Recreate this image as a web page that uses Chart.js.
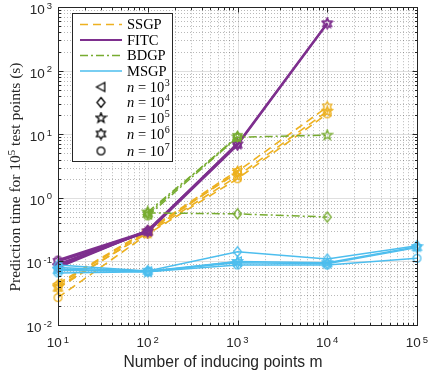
<!DOCTYPE html>
<html>
<head>
<meta charset="utf-8">
<script src="https://cdn.jsdelivr.net/npm/chart.js@4"></script>
<style>
html, body { margin: 0; padding: 0; background: #fff; }
#wrap { width: 429px; height: 374px; }
</style>
</head>
<body>
<div id="wrap"><canvas id="timeChart" width="429" height="374"></canvas></div>
<script>
const inducingPoints = [10, 100, 1000, 10000, 100000];
const nExponents = ['3', '4', '5', '6', '7'];
const methodNames = ['SSGP', 'FITC', 'BDGP', 'MSGP'];

// rows: n = 1e3, 1e4, 1e5, 1e6, 1e7 ; columns follow inducingPoints
const ssgpTimes = [
    [0.045, 0.31, 2.7, null, null],
    [0.043, 0.30, 2.5, null, null],
    [0.040, 0.28, 2.2, 23, null],
    [0.038, 0.29, 2.6, 27, null],
    [0.027, 0.27, 2.0, 21, null]
];
const fitcTimes = [
    [0.090, 0.30, null, null, null],
    [0.080, 0.31, 7.0, null, null],
    [0.085, 0.30, 7.0, 560, null],
    [0.100, 0.29, 6.8, 550, null],
    [0.105, 0.30, 7.2, null, null]
];
const bdgpTimes = [
    [null, 0.55, null, null, null],
    [null, 0.58, 0.56, 0.50, null],
    [null, 0.60, 9.0, 9.7, null],
    [null, 0.56, 9.3, null, null],
    [null, 0.52, 9.0, null, null]
];
const msgpTimes = [
    [0.080, 0.070, 0.100, null, null],
    [0.088, 0.071, 0.142, 0.109, 0.176],
    [0.076, 0.068, 0.100, 0.095, 0.170],
    [0.072, 0.070, 0.095, 0.092, 0.165],
    [0.066, 0.069, 0.088, 0.088, 0.112]
];

const allTimes = [ssgpTimes, fitcTimes, bdgpTimes, msgpTimes];
const colors = ['#EDB120', '#7E2F8E', '#77AC30', '#4DBEEE'];
const dashes = [[8, 5], [], [8, 3, 2, 3], []];
const widths = [1.6, 2.2, 1.5, 1.5];
const shapes = ['triangle', 'diamond', 'pentagram', 'hexagram', 'circle'];

const serif = '"Liberation Serif", "Times New Roman", serif';
const sans = '"Liberation Sans", Arial, Helvetica, sans-serif';

function makeMarker(shape, color) {
    const c = document.createElement('canvas');
    c.width = 13; c.height = 13;
    const g = c.getContext('2d');
    g.strokeStyle = color;
    g.lineWidth = 1.3;
    g.translate(6.5, 6.5);
    g.beginPath();
    if (shape === 'circle') {
        g.arc(0, 0, 3.9, 0, Math.PI * 2);
    } else if (shape === 'triangle') {
        g.moveTo(-4.5, 0); g.lineTo(3.8, -4.5); g.lineTo(3.8, 4.5); g.closePath();
    } else if (shape === 'diamond') {
        g.moveTo(0, -5); g.lineTo(4, 0); g.lineTo(0, 5); g.lineTo(-4, 0); g.closePath();
    } else {
        const pts = shape === 'pentagram' ? 5 : 6;
        const inner = shape === 'pentagram' ? 0.42 : 0.58;
        const r = 5.2;
        for (let i = 0; i < pts * 2; i++) {
            const a = -Math.PI / 2 + i * Math.PI / pts;
            const rr = i % 2 ? r * inner : r;
            if (i === 0) g.moveTo(rr * Math.cos(a), rr * Math.sin(a));
            else g.lineTo(rr * Math.cos(a), rr * Math.sin(a));
        }
        g.closePath();
    }
    g.stroke();
    return c;
}

const datasets = [];
allTimes.forEach(function(rows, i) {
    rows.forEach(function(vals, j) {
        datasets.push({
            label: methodNames[i] + ' n=1e' + nExponents[j],
            data: inducingPoints.map(function(m, k) { return { x: m, y: vals[k] }; })
                .filter(function(p) { return p.y !== null; }),
            borderColor: colors[i],
            borderWidth: widths[i],
            borderDash: dashes[i],
            pointStyle: makeMarker(shapes[j], colors[i]),
            pointRadius: 5,
            fill: false,
            tension: 0,
            clip: false,
            order: -(i * 5 + j)
        });
    });
});

function drawPow(ctx, x, y, expo, baseSize, expSize, align, rise) {
    ctx.font = baseSize + 'px ' + sans;
    const wb = ctx.measureText('10').width;
    ctx.font = expSize + 'px ' + sans;
    const we = ctx.measureText(expo).width;
    const total = wb + 2 + we;
    let x0 = align === 'center' ? x - total / 2 : x - total;
    ctx.textAlign = 'left';
    ctx.font = baseSize + 'px ' + sans;
    ctx.fillText('10', x0, y);
    ctx.font = expSize + 'px ' + sans;
    ctx.fillText(expo, x0 + wb + 2, y - rise);
}

const axesPlugin = {
    id: 'matlabAxes',
    beforeDatasetsDraw(chart) {
        const { ctx, chartArea: a, scales: { x, y } } = chart;
        ctx.save();
        ctx.lineWidth = 1;
        // minor grid, dotted
        ctx.strokeStyle = 'rgba(38,38,38,0.32)';
        ctx.setLineDash([1, 2]);
        for (let e = 1; e < 5; e++) {
            for (let d = 2; d < 10; d++) {
                const px = Math.round(x.getPixelForValue(d * Math.pow(10, e))) + 0.5;
                ctx.beginPath(); ctx.moveTo(px, a.top); ctx.lineTo(px, a.bottom); ctx.stroke();
            }
        }
        for (let e = -2; e < 3; e++) {
            for (let d = 2; d < 10; d++) {
                const py = Math.round(y.getPixelForValue(d * Math.pow(10, e))) + 0.5;
                ctx.beginPath(); ctx.moveTo(a.left, py); ctx.lineTo(a.right, py); ctx.stroke();
            }
        }
        // major grid
        ctx.setLineDash([]);
        ctx.strokeStyle = 'rgba(38,38,38,0.15)';
        for (let e = 1; e <= 5; e++) {
            const px = Math.round(x.getPixelForValue(Math.pow(10, e))) + 0.5;
            ctx.beginPath(); ctx.moveTo(px, a.top); ctx.lineTo(px, a.bottom); ctx.stroke();
        }
        for (let e = -2; e <= 3; e++) {
            const py = Math.round(y.getPixelForValue(Math.pow(10, e))) + 0.5;
            ctx.beginPath(); ctx.moveTo(a.left, py); ctx.lineTo(a.right, py); ctx.stroke();
        }
        ctx.restore();
    },
    afterDraw(chart) {
        const { ctx, chartArea: a, scales: { x, y } } = chart;
        ctx.save();
        const L = Math.round(a.left) + 0.5, R = Math.round(a.right) + 0.5;
        const T = Math.round(a.top) + 0.5, B = Math.round(a.bottom) + 0.5;
        ctx.strokeStyle = '#262626';
        ctx.lineWidth = 1;
        ctx.strokeRect(L, T, R - L, B - T);

        // inner ticks on all sides
        ctx.beginPath();
        for (let e = 1; e <= 5; e++) {
            for (let d = 1; d < 10; d++) {
                const v = d * Math.pow(10, e);
                if (v > 1e5) break;
                const px = Math.round(x.getPixelForValue(v)) + 0.5;
                const len = d === 1 ? 5 : 2.5;
                ctx.moveTo(px, B); ctx.lineTo(px, B - len);
                ctx.moveTo(px, T); ctx.lineTo(px, T + len);
            }
        }
        for (let e = -2; e <= 3; e++) {
            for (let d = 1; d < 10; d++) {
                const v = d * Math.pow(10, e);
                if (v > 1000) break;
                const py = Math.round(y.getPixelForValue(v)) + 0.5;
                const len = d === 1 ? 5 : 2.5;
                ctx.moveTo(L, py); ctx.lineTo(L + len, py);
                ctx.moveTo(R, py); ctx.lineTo(R - len, py);
            }
        }
        ctx.stroke();

        // tick labels
        ctx.fillStyle = '#262626';
        ctx.textBaseline = 'alphabetic';
        for (let e = 1; e <= 5; e++) {
            drawPow(ctx, x.getPixelForValue(Math.pow(10, e)), 347, String(e), 13.5, 9.5, 'center', 4.5);
        }
        for (let e = -2; e <= 3; e++) {
            const ex = e < 0 ? '-' + (-e) : String(e);
            drawPow(ctx, 52, y.getPixelForValue(Math.pow(10, e)) + 7, ex, 13.5, 9.5, 'right', 5.5);
        }

        // x title, fitted to the reference span
        ctx.fillStyle = '#262626';
        const xt = 'Number of inducing points m';
        ctx.font = '15px ' + sans;
        const xfs = 15 * 199 / ctx.measureText(xt).width;
        ctx.font = xfs + 'px ' + sans;
        ctx.textAlign = 'center';
        ctx.fillText(xt, 223, 367);

        // y title (serif, with superscript)
        ctx.save();
        ctx.translate(20, 177);
        ctx.rotate(-Math.PI / 2);
        const p1 = 'Prediction time for 10', p2 = '5', p3 = ' test points (s)';
        ctx.font = '15px ' + serif;
        const raw = ctx.measureText(p1 + p3).width + 7;
        const fs = 15 * 231 / raw;
        ctx.font = fs + 'px ' + serif;
        const w1 = ctx.measureText(p1).width, w3 = ctx.measureText(p3).width;
        ctx.font = (fs * 0.7) + 'px ' + serif;
        const w2 = ctx.measureText(p2).width;
        let sx = -(w1 + w2 + w3) / 2;
        ctx.textAlign = 'left';
        ctx.font = fs + 'px ' + serif;
        ctx.fillText(p1, sx, 0);
        ctx.font = (fs * 0.7) + 'px ' + serif;
        ctx.fillText(p2, sx + w1, -5.5);
        ctx.font = fs + 'px ' + serif;
        ctx.fillText(p3, sx + w1 + w2, 0);
        ctx.restore();

        // legend
        const lx = 72.5, ly = 13.5, lw = 100, lh = 148;
        ctx.fillStyle = '#fff';
        ctx.fillRect(lx, ly, lw, lh);
        ctx.strokeStyle = '#262626';
        ctx.lineWidth = 1;
        ctx.strokeRect(lx, ly, lw, lh);
        const rowsY = [24.5, 40, 55.5, 71, 87, 102.5, 118, 134, 151];
        ctx.textBaseline = 'middle';
        ctx.textAlign = 'left';
        methodNames.forEach(function(name, i) {
            ctx.save();
            ctx.strokeStyle = colors[i];
            ctx.lineWidth = widths[i];
            ctx.setLineDash(dashes[i]);
            ctx.beginPath();
            ctx.moveTo(80, rowsY[i]); ctx.lineTo(122, rowsY[i]);
            ctx.stroke();
            ctx.restore();
            ctx.fillStyle = '#000';
            ctx.font = '14.5px ' + serif;
            ctx.fillText(name, 127, rowsY[i] + 1);
        });
        shapes.forEach(function(shape, j) {
            const yy = rowsY[4 + j];
            const m = makeMarker(shape, '#000');
            ctx.drawImage(m, 101 - m.width / 2, yy - m.height / 2);
            ctx.fillStyle = '#000';
            ctx.font = 'italic 14.5px ' + serif;
            ctx.fillText('n', 127, yy + 1);
            let cx = 127 + ctx.measureText('n').width;
            ctx.font = '14.5px ' + serif;
            ctx.fillText(' = 10', cx, yy + 1);
            cx += ctx.measureText(' = 10').width;
            ctx.font = '10px ' + serif;
            ctx.fillText(nExponents[j], cx + 0.5, yy - 4);
        });
        ctx.restore();
    }
};

const ctx = document.getElementById('timeChart').getContext('2d');
const chart = new Chart(ctx, {
    type: 'line',
    data: { datasets: datasets },
    options: {
        responsive: false,
        animation: false,
        layout: { padding: { left: 58, right: 12, top: 7, bottom: 49 } },
        scales: {
            x: { type: 'logarithmic', min: 10, max: 100000, display: false },
            y: { type: 'logarithmic', min: 0.01, max: 1000, display: false }
        },
        plugins: {
            legend: { display: false },
            tooltip: { enabled: false }
        }
    },
    plugins: [axesPlugin]
});
</script>
</body>
</html>
